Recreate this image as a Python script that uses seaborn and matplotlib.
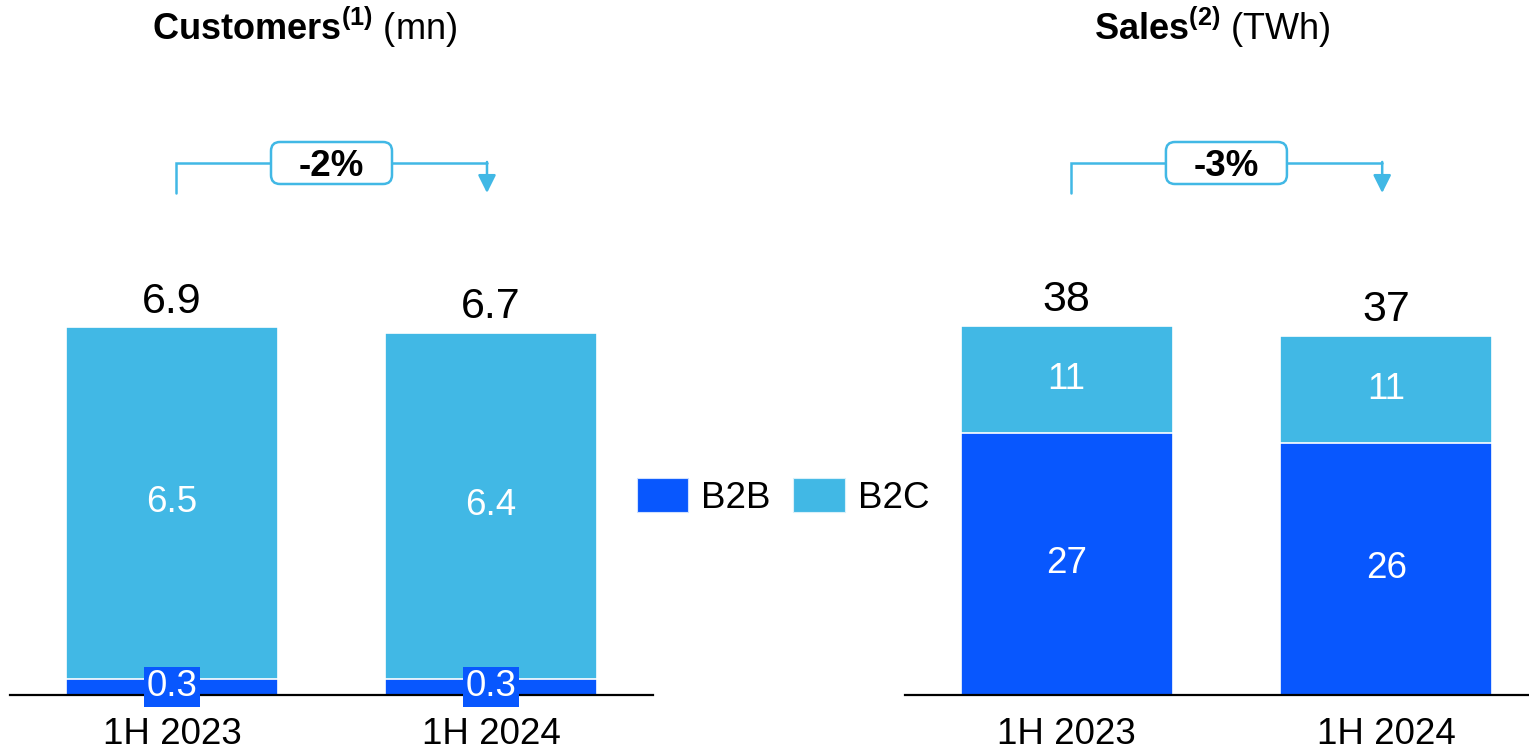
import matplotlib
matplotlib.use("Agg")
import matplotlib.pyplot as plt
import matplotlib.transforms as mtransforms
from matplotlib.patches import Patch, FancyBboxPatch
import pandas as pd
import seaborn as sns

# ---- data -------------------------------------------------------------
periods = ["1H 2023", "1H 2024"]

customers_b2b = [0.3, 0.3]
customers_b2c = [6.5, 6.4]
customers_total = ["6.9", "6.7"]
customers_change = "-2%"

sales_b2b = [27, 26]
sales_b2c = [11, 11]
sales_total = ["38", "37"]
sales_change = "-3%"

series_names = ["B2B", "B2C"]

# ---- style ------------------------------------------------------------
B2B_COLOR = "#0857FE"
B2C_COLOR = "#41B8E5"
LABEL_SIZE = 26.5
TOTAL_SIZE = 31

sns.set_theme(style="white")
plt.rcParams["font.family"] = ["Liberation Sans", "DejaVu Sans"]
plt.rcParams["text.color"] = "black"
plt.rcParams["legend.labelcolor"] = "black"
plt.rcParams["mathtext.fontset"] = "custom"
plt.rcParams["mathtext.rm"] = "Liberation Sans"
plt.rcParams["mathtext.it"] = "Liberation Sans:italic"
plt.rcParams["mathtext.bf"] = "Liberation Sans:bold"

W, H = 1529, 755
fig = plt.figure(figsize=(W / 100, H / 100), dpi=100)


def px_axes(x0, x1, y_bottom, y_top):
    """Axes placed by pixel edges (y measured from the top)."""
    return fig.add_axes([x0 / W, 1 - y_bottom / H, (x1 - x0) / W, (y_bottom - y_top) / H])


def stacked_panel(ax, b2b, b2c, totals, change, ymax, xlim, bar_width, boxed_b2b):
    df = pd.DataFrame({"period": periods, "b2b": b2b, "b2c": b2c})
    df["stack_top"] = df["b2b"] + df["b2c"]

    bar_kw = dict(width=bar_width, edgecolor="white", linewidth=1.2, saturation=1, ax=ax)
    sns.barplot(data=df, x="period", y="stack_top", color=B2C_COLOR, **bar_kw)
    sns.barplot(data=df, x="period", y="b2b", color=B2B_COLOR, **bar_kw)

    for i, row in df.iterrows():
        # B2C segment label
        ax.text(i, row["b2b"] + row["b2c"] / 2, f"{row['b2c']:g}", ha="center",
                va="center", color="white", fontsize=LABEL_SIZE, zorder=5)
        # B2B segment label
        if boxed_b2b:
            ax.text(i, row["b2b"] / 2, f"{row['b2b']:g}", ha="center", va="center",
                    color="white", fontsize=LABEL_SIZE, zorder=5,
                    bbox=dict(boxstyle="square,pad=0.07", fc=B2B_COLOR, ec="none"))
        else:
            ax.text(i, row["b2b"] / 2, f"{row['b2b']:g}", ha="center", va="center",
                    color="white", fontsize=LABEL_SIZE, zorder=5)
        # total above the stack
        ax.annotate(totals[i], xy=(i, row["stack_top"]), xytext=(0, 4),
                    textcoords="offset points", ha="center", va="bottom",
                    fontsize=TOTAL_SIZE, color="black")

    ax.set_ylim(0, ymax)
    ax.set_xlim(*xlim)
    ax.set_xlabel("")
    ax.set_ylabel("")
    ax.set_yticks([])
    ax.tick_params(axis="x", length=0, labelsize=LABEL_SIZE, pad=15.5, colors="black")
    for side in ["left", "right", "top"]:
        ax.spines[side].set_visible(False)
    ax.spines["bottom"].set_color("black")
    ax.spines["bottom"].set_linewidth(1.6)

    # change bracket between the two bars
    trans = mtransforms.blended_transform_factory(ax.transData, ax.transAxes)
    y_line = (695 - 163) / 695
    y_leg = (695 - 193) / 695
    inset = 0.0125
    x0, x1 = 0 + inset, 1 - inset
    ax.plot([x0, x0, x1], [y_leg, y_line, y_line], transform=trans,
            color=B2C_COLOR, lw=1.8, clip_on=False, solid_joinstyle="miter")
    ax.annotate("", xy=(x1, y_leg), xycoords=trans, xytext=(x1, y_line + 0.0015),
                textcoords=trans,
                arrowprops=dict(arrowstyle="-|>,head_length=0.4,head_width=0.2",
                                color=B2C_COLOR, lw=1.8, mutation_scale=27,
                                shrinkA=0, shrinkB=0))
    box_trans = mtransforms.IdentityTransform() + mtransforms.ScaledTranslation(
        0.5, y_line, trans)
    box = FancyBboxPatch((-60.5, -21), 121, 42,
                         boxstyle="round,pad=0,rounding_size=9",
                         transform=box_trans, fc="white", ec=B2C_COLOR, lw=1.8,
                         clip_on=False, zorder=6)
    ax.add_patch(box)
    ax.text(0.5, y_line, change, transform=trans, ha="center", va="center_baseline",
            fontsize=LABEL_SIZE, fontweight="bold", color="black", zorder=7)


ax_c = px_axes(10, 653, 695, 0)
ax_s = px_axes(905, 1529, 695, 0)

stacked_panel(ax_c, customers_b2b, customers_b2c, customers_total, customers_change,
              ymax=695 / 54.1, xlim=(-0.508, 1.508), bar_width=0.665, boxed_b2b=True)
stacked_panel(ax_s, sales_b2b, sales_b2c, sales_total, sales_change,
              ymax=695 / 9.71, xlim=(-0.506, 1.447), bar_width=0.6625, boxed_b2b=False)

# panel titles
fig.text(305 / W, 1 - 27 / H, r"$\mathbf{Customers}^{\mathbf{(1)}}$ (mn)",
         ha="center", va="center", fontsize=26, color="black")
fig.text(1212 / W, 1 - 27 / H, r"$\mathbf{Sales}^{\mathbf{(2)}}$ (TWh)",
         ha="center", va="center", fontsize=26, color="black")

# shared legend between the panels
handles = [Patch(facecolor=B2B_COLOR, edgecolor="#cfe0ff", lw=0.8),
           Patch(facecolor=B2C_COLOR, edgecolor="#d8f0fa", lw=0.8)]
fig.legend(handles, series_names, loc="center", bbox_to_anchor=(783 / W, 1 - 497 / H),
           ncol=2, frameon=False, fontsize=LABEL_SIZE, handlelength=1.4,
           handleheight=1.05, handletextpad=0.35, columnspacing=0.62, borderaxespad=0)

fig.savefig("out.png", dpi=100, facecolor="white")
